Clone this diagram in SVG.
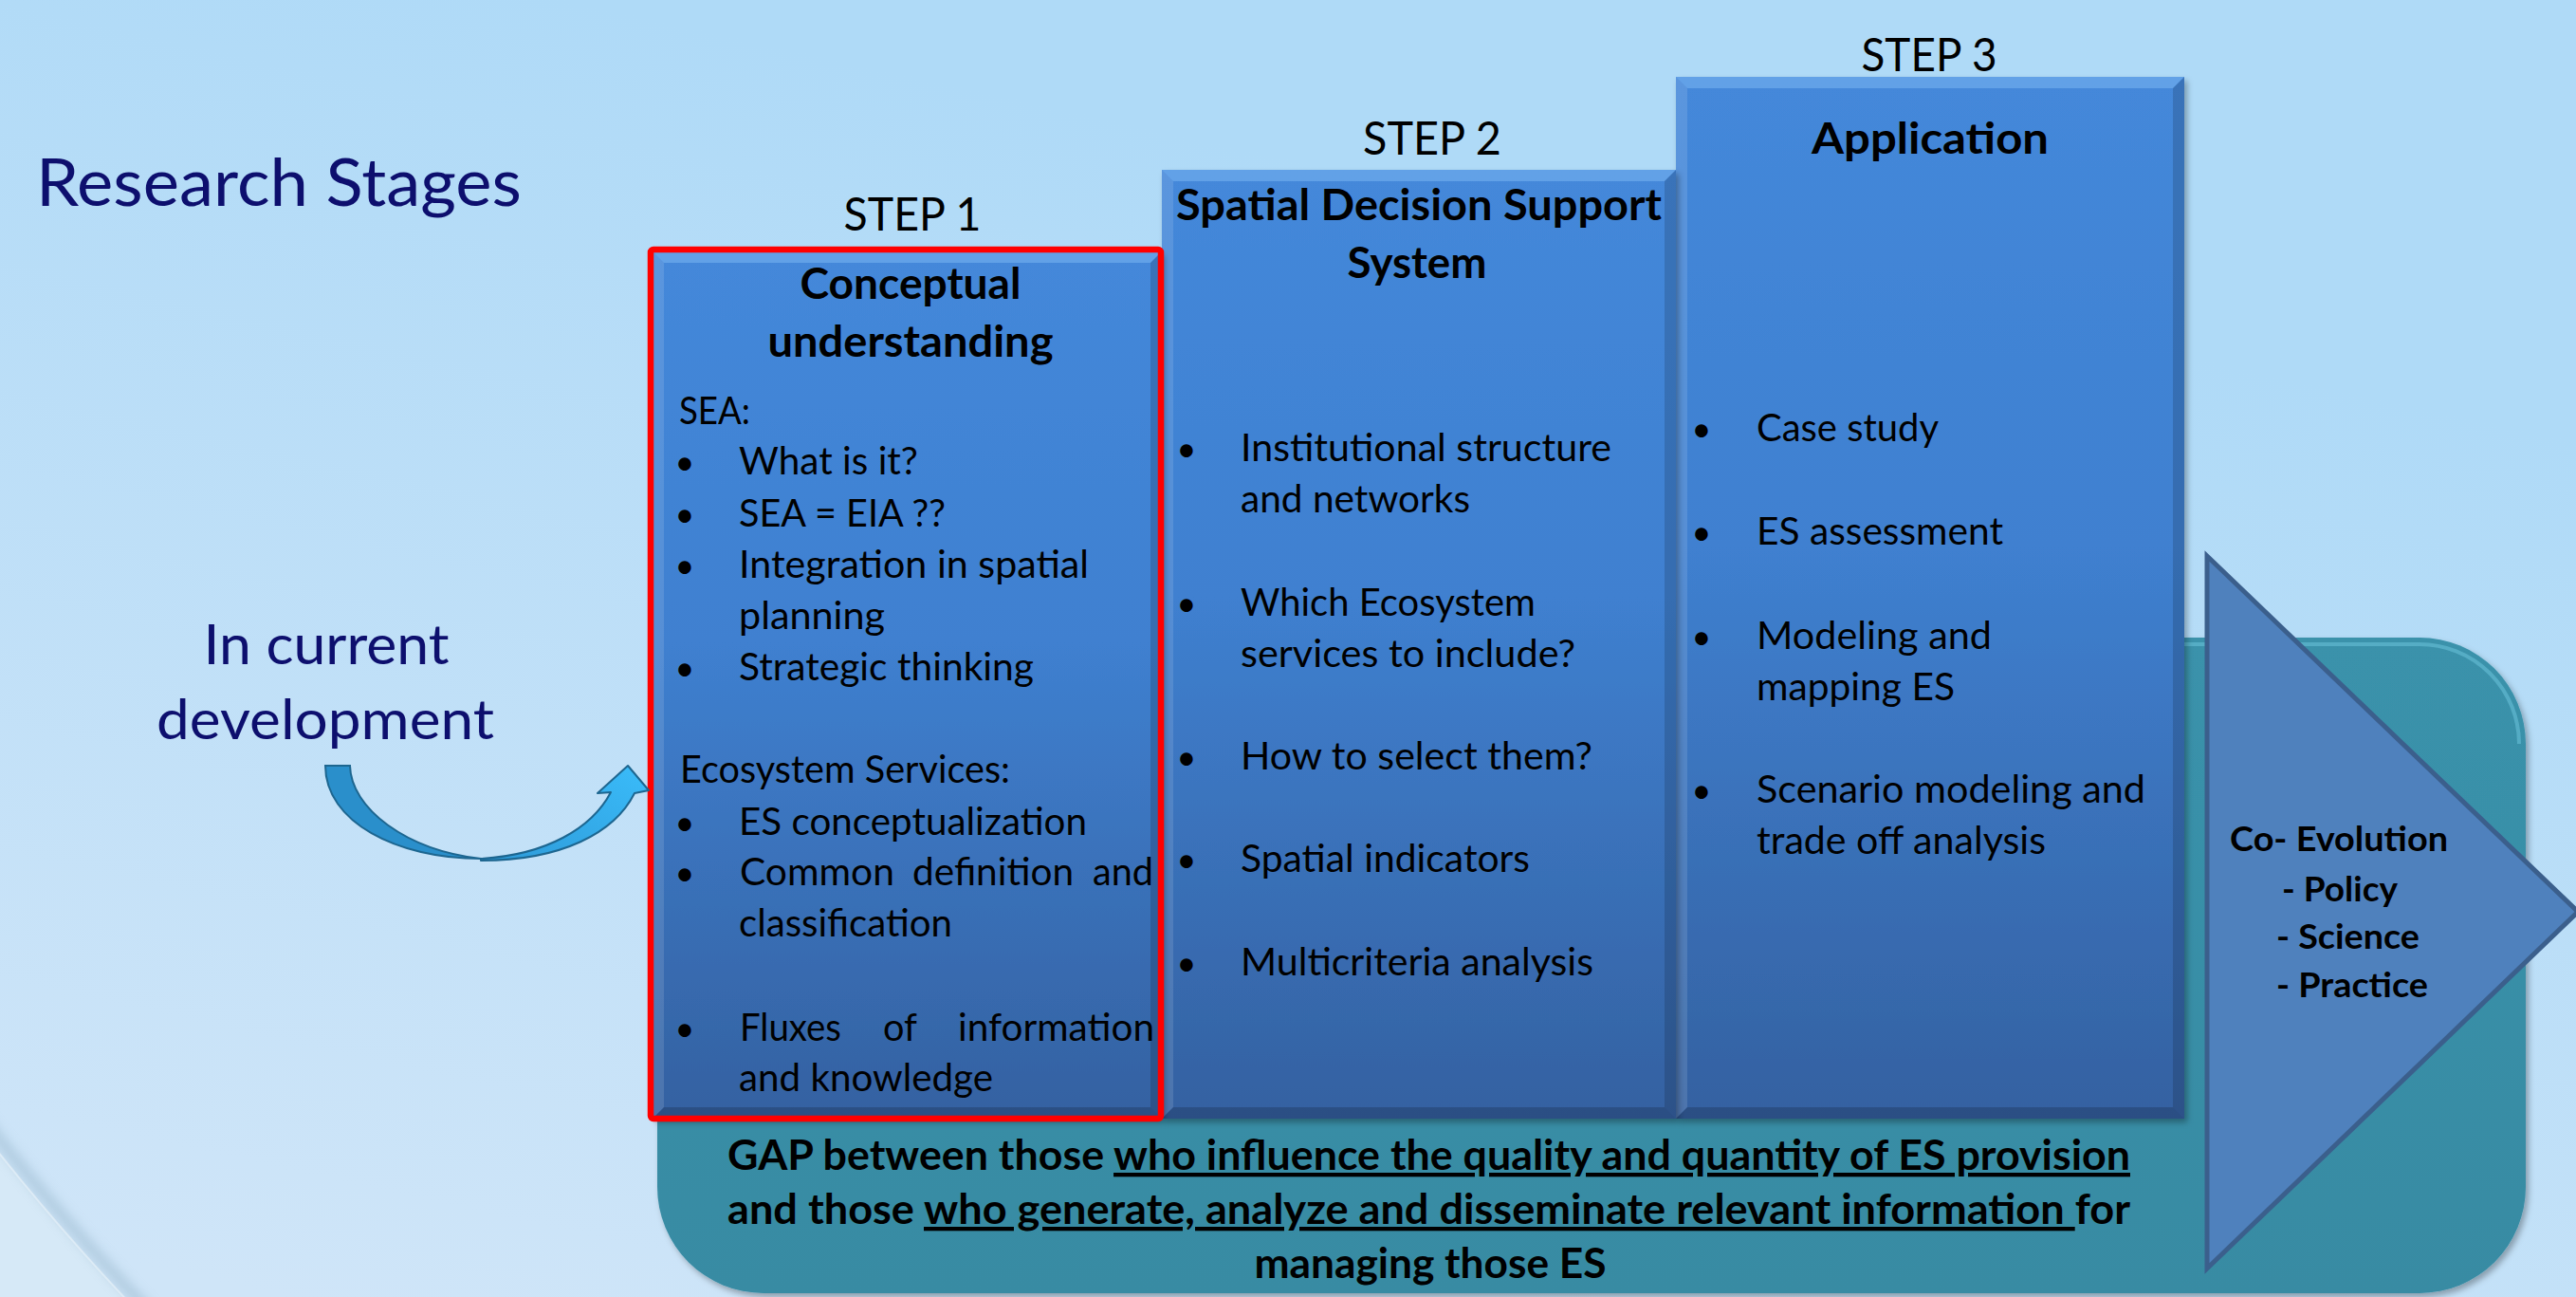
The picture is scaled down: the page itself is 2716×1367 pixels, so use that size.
<svg xmlns="http://www.w3.org/2000/svg" width="2716" height="1367" viewBox="0 0 2716 1367">
<defs>
  <linearGradient id="bg" gradientUnits="userSpaceOnUse" x1="600" y1="0" x2="300" y2="1367">
    <stop offset="0" stop-color="#afdaf7"/>
    <stop offset="1" stop-color="#cfe5f8"/>
  </linearGradient>
  <linearGradient id="stepFill" x1="0" y1="0" x2="0" y2="1">
    <stop offset="0" stop-color="#4488da"/>
    <stop offset="0.45" stop-color="#3f80d0"/>
    <stop offset="1" stop-color="#3461a1"/>
  </linearGradient>
  <linearGradient id="tealFill" x1="0" y1="0" x2="0" y2="1">
    <stop offset="0" stop-color="#3a92ab"/>
    <stop offset="1" stop-color="#378ba3"/>
  </linearGradient>
  <linearGradient id="arrowFront" x1="0" y1="1" x2="1" y2="0">
    <stop offset="0" stop-color="#2e9ad8"/>
    <stop offset="1" stop-color="#3abcfa"/>
  </linearGradient>
  <filter id="shadow" x="-5%" y="-5%" width="115%" height="115%">
    <feDropShadow dx="3" dy="4" stdDeviation="3" flood-color="#000" flood-opacity="0.3"/>
  </filter>
  <filter id="soft" x="-10%" y="-10%" width="120%" height="120%">
    <feGaussianBlur stdDeviation="6"/>
  </filter>
</defs>
<style>
  text{font-family:Lato,"Open Sans","Liberation Sans",sans-serif}
  .navy{fill:#0d0f6e}
  .big{font-size:70px}
  .mid{font-size:59px}
  .step{font-size:49px;fill:#000;text-anchor:middle}
  .title{font-size:45px;font-weight:700;fill:#000;text-anchor:middle}
  .body{font-size:40px;fill:#000}
  .dot{font-size:36px;fill:#000;text-anchor:middle}
  .gap{font-size:43px;font-weight:700;fill:#000}
  .coev{font-size:37px;font-weight:700;fill:#000}
  .box{fill:url(#stepFill);filter:url(#shadow)}
  .bvT{fill:#7ab6f2;opacity:0.55}
  .bvL{fill:#ffffff;opacity:0.12}
  .bvR{fill:#000;opacity:0.15}
  .bvB{fill:#000;opacity:0.18}
  .ul{text-decoration:underline}
</style>

<!-- background -->
<rect x="0" y="0" width="2716" height="1367" fill="#d6e9f7"/>
<circle cx="1900" cy="-300" r="2430" fill="url(#bg)"/>
<circle cx="1900" cy="-300" r="2422" fill="none" stroke="#93b2c7" stroke-width="12" opacity="0.5" filter="url(#soft)"/>
<circle cx="1900" cy="-300" r="2431" fill="none" stroke="#eef6fb" stroke-width="2" opacity="0.5"/>

<!-- research stages title -->
<g id="research-stages">
  <text class="navy big" x="38" y="217" textLength="512" lengthAdjust="spacingAndGlyphs">Research Stages</text>
</g>

<!-- GAP box -->
<g id="gap-box">
  <rect x="693" y="672" width="1970" height="691" rx="112" fill="url(#tealFill)" filter="url(#shadow)"/>
  <path d="M700,800 L700,784 A105,105 0 0 1 805,679 L2551,679 A105,105 0 0 1 2656,784" fill="none" stroke="#6cc2da" stroke-width="4" opacity="0.55"/>
  <text class="gap" x="767" y="1233" textLength="1479" lengthAdjust="spacingAndGlyphs">GAP between those <tspan class="ul">who influence the quality and quantity of ES provision</tspan></text>
  <text class="gap" x="767" y="1290" textLength="1479" lengthAdjust="spacingAndGlyphs">and those <tspan class="ul">who generate, analyze and disseminate relevant information </tspan>for</text>
  <text class="gap" x="1508" y="1347" text-anchor="middle" textLength="371" lengthAdjust="spacingAndGlyphs">managing those ES</text>
</g>

<!-- STEP 3 -->
<g id="step3">
  <rect class="box" x="1767" y="81" width="536" height="1098"/>
  <polygon class="bvT" points="1767,81 2303,81 2291,93 1779,93"/>
  <polygon class="bvL" points="1767,81 1779,93 1779,1167 1767,1179"/>
  <polygon class="bvR" points="2303,81 2303,1179 2291,1167 2291,93"/>
  <polygon class="bvB" points="1767,1179 2303,1179 2291,1167 1779,1167"/>
  <text class="step" x="2034" y="75" textLength="143" lengthAdjust="spacingAndGlyphs">STEP 3</text>
  <text class="title" x="2035" y="162" textLength="250" lengthAdjust="spacingAndGlyphs">Application</text>
  <text class="dot" x="1794" y="465">•</text>
  <text class="body" x="1852" y="465" textLength="192" lengthAdjust="spacingAndGlyphs">Case study</text>
  <text class="dot" x="1794" y="574">•</text>
  <text class="body" x="1852" y="574" textLength="260" lengthAdjust="spacingAndGlyphs">ES assessment</text>
  <text class="dot" x="1794" y="684">•</text>
  <text class="body" x="1852" y="684" textLength="248" lengthAdjust="spacingAndGlyphs">Modeling and</text>
  <text class="body" x="1852" y="738" textLength="209" lengthAdjust="spacingAndGlyphs">mapping ES</text>
  <text class="dot" x="1794" y="846">•</text>
  <text class="body" x="1852" y="846" textLength="410" lengthAdjust="spacingAndGlyphs">Scenario modeling and</text>
  <text class="body" x="1852" y="900" textLength="305" lengthAdjust="spacingAndGlyphs">trade off analysis</text>
</g>

<!-- STEP 2 -->
<g id="step2">
  <rect class="box" x="1225" y="179" width="542" height="1000"/>
  <polygon class="bvT" points="1225,179 1767,179 1755,191 1237,191"/>
  <polygon class="bvL" points="1225,179 1237,191 1237,1167 1225,1179"/>
  <polygon class="bvR" points="1767,179 1767,1179 1755,1167 1755,191"/>
  <polygon class="bvB" points="1225,1179 1767,1179 1755,1167 1237,1167"/>
  <text class="step" x="1510" y="163" textLength="146" lengthAdjust="spacingAndGlyphs">STEP 2</text>
  <text class="title" x="1496" y="232" textLength="512" lengthAdjust="spacingAndGlyphs">Spatial Decision Support</text>
  <text class="title" x="1494" y="293" textLength="147" lengthAdjust="spacingAndGlyphs">System</text>
  <text class="dot" x="1251" y="486">•</text>
  <text class="body" x="1308" y="486" textLength="391" lengthAdjust="spacingAndGlyphs">Institutional structure</text>
  <text class="body" x="1308" y="540" textLength="242" lengthAdjust="spacingAndGlyphs">and networks</text>
  <text class="dot" x="1251" y="649">•</text>
  <text class="body" x="1308" y="649" textLength="311" lengthAdjust="spacingAndGlyphs">Which Ecosystem</text>
  <text class="body" x="1308" y="703" textLength="353" lengthAdjust="spacingAndGlyphs">services to include?</text>
  <text class="dot" x="1251" y="811">•</text>
  <text class="body" x="1308" y="811" textLength="371" lengthAdjust="spacingAndGlyphs">How to select them?</text>
  <text class="dot" x="1251" y="919">•</text>
  <text class="body" x="1308" y="919" textLength="305" lengthAdjust="spacingAndGlyphs">Spatial indicators</text>
  <text class="dot" x="1251" y="1028">•</text>
  <text class="body" x="1308" y="1028" textLength="372" lengthAdjust="spacingAndGlyphs">Multicriteria analysis</text>
</g>

<!-- STEP 1 -->
<g id="step1">
  <rect class="box" x="688" y="265" width="537" height="914"/>
  <polygon class="bvT" points="688,265 1225,265 1213,277 700,277"/>
  <polygon class="bvL" points="688,265 700,277 700,1167 688,1179"/>
  <polygon class="bvR" points="1225,265 1225,1179 1213,1167 1213,277"/>
  <polygon class="bvB" points="688,1179 1225,1179 1213,1167 700,1167"/>
  <text class="step" x="962" y="243" textLength="145" lengthAdjust="spacingAndGlyphs">STEP 1</text>
  <text class="title" x="960" y="315" textLength="233" lengthAdjust="spacingAndGlyphs">Conceptual</text>
  <text class="title" x="960" y="376" textLength="301" lengthAdjust="spacingAndGlyphs">understanding</text>
  <text class="body" x="716" y="447" textLength="75" lengthAdjust="spacingAndGlyphs">SEA:</text>
  <text class="dot" x="722" y="500">•</text>
  <text class="body" x="779" y="500" textLength="189" lengthAdjust="spacingAndGlyphs">What is it?</text>
  <text class="dot" x="722" y="555">•</text>
  <text class="body" x="779" y="555" textLength="218" lengthAdjust="spacingAndGlyphs">SEA = EIA ??</text>
  <text class="dot" x="722" y="609">•</text>
  <text class="body" x="779" y="609" textLength="369" lengthAdjust="spacingAndGlyphs">Integration in spatial</text>
  <text class="body" x="779" y="663" textLength="154" lengthAdjust="spacingAndGlyphs">planning</text>
  <text class="dot" x="722" y="717">•</text>
  <text class="body" x="779" y="717" textLength="311" lengthAdjust="spacingAndGlyphs">Strategic thinking</text>
  <text class="body" x="717" y="825" textLength="348" lengthAdjust="spacingAndGlyphs">Ecosystem Services:</text>
  <text class="dot" x="722" y="880">•</text>
  <text class="body" x="779" y="880" textLength="367" lengthAdjust="spacingAndGlyphs">ES conceptualization</text>
  <text class="dot" x="722" y="933">•</text>
  <text class="body" x="780" y="933" textLength="163" lengthAdjust="spacingAndGlyphs">Common</text>
  <text class="body" x="962" y="933" textLength="170" lengthAdjust="spacingAndGlyphs">definition</text>
  <text class="body" x="1152" y="933" textLength="64" lengthAdjust="spacingAndGlyphs">and</text>
  <text class="body" x="779" y="987" textLength="225" lengthAdjust="spacingAndGlyphs">classification</text>
  <text class="dot" x="722" y="1097">•</text>
  <text class="body" x="780" y="1097" textLength="107" lengthAdjust="spacingAndGlyphs">Fluxes</text>
  <text class="body" x="931" y="1097" textLength="36" lengthAdjust="spacingAndGlyphs">of</text>
  <text class="body" x="1010" y="1097" textLength="207" lengthAdjust="spacingAndGlyphs">information</text>
  <text class="body" x="779" y="1150" textLength="268" lengthAdjust="spacingAndGlyphs">and knowledge</text>
  <rect x="686" y="263" width="538" height="916" rx="3" fill="none" stroke="#ff0000" stroke-width="6.5"/>
</g>

<!-- Co-Evolution -->
<g id="co-evolution">
  <polygon points="2327,586 2718,961 2327,1337" fill="#4f81bd" stroke="#3b5f8c" stroke-width="5"/>
  <text class="coev" x="2351" y="897" textLength="230" lengthAdjust="spacingAndGlyphs">Co- Evolution</text>
  <text class="coev" x="2406" y="950" textLength="122" lengthAdjust="spacingAndGlyphs">- Policy</text>
  <text class="coev" x="2400" y="1000" textLength="151" lengthAdjust="spacingAndGlyphs">- Science</text>
  <text class="coev" x="2400" y="1051" textLength="160" lengthAdjust="spacingAndGlyphs">- Practice</text>
</g>

<!-- In current development -->
<g id="in-current-development">
  <text class="navy mid" x="344" y="700" text-anchor="middle" textLength="259" lengthAdjust="spacingAndGlyphs">In current</text>
  <text class="navy mid" x="343" y="779" text-anchor="middle" textLength="356" lengthAdjust="spacingAndGlyphs">development</text>
</g>

<!-- connectors -->
<g id="connectors">
  <path d="M343,807 L369,807 C370,852 428,896 507,905 C418,905 343,866 343,807 Z" fill="#2a8fcb" stroke="#1d6690" stroke-width="2"/>
  <path d="M507,907 C592,907 648,878 669,836 L684,833 L662,807 L630,836 L644,835 C624,873 576,901 507,905 Z" fill="url(#arrowFront)" stroke="#1d6690" stroke-width="2" stroke-linejoin="round"/>
</g>
</svg>
